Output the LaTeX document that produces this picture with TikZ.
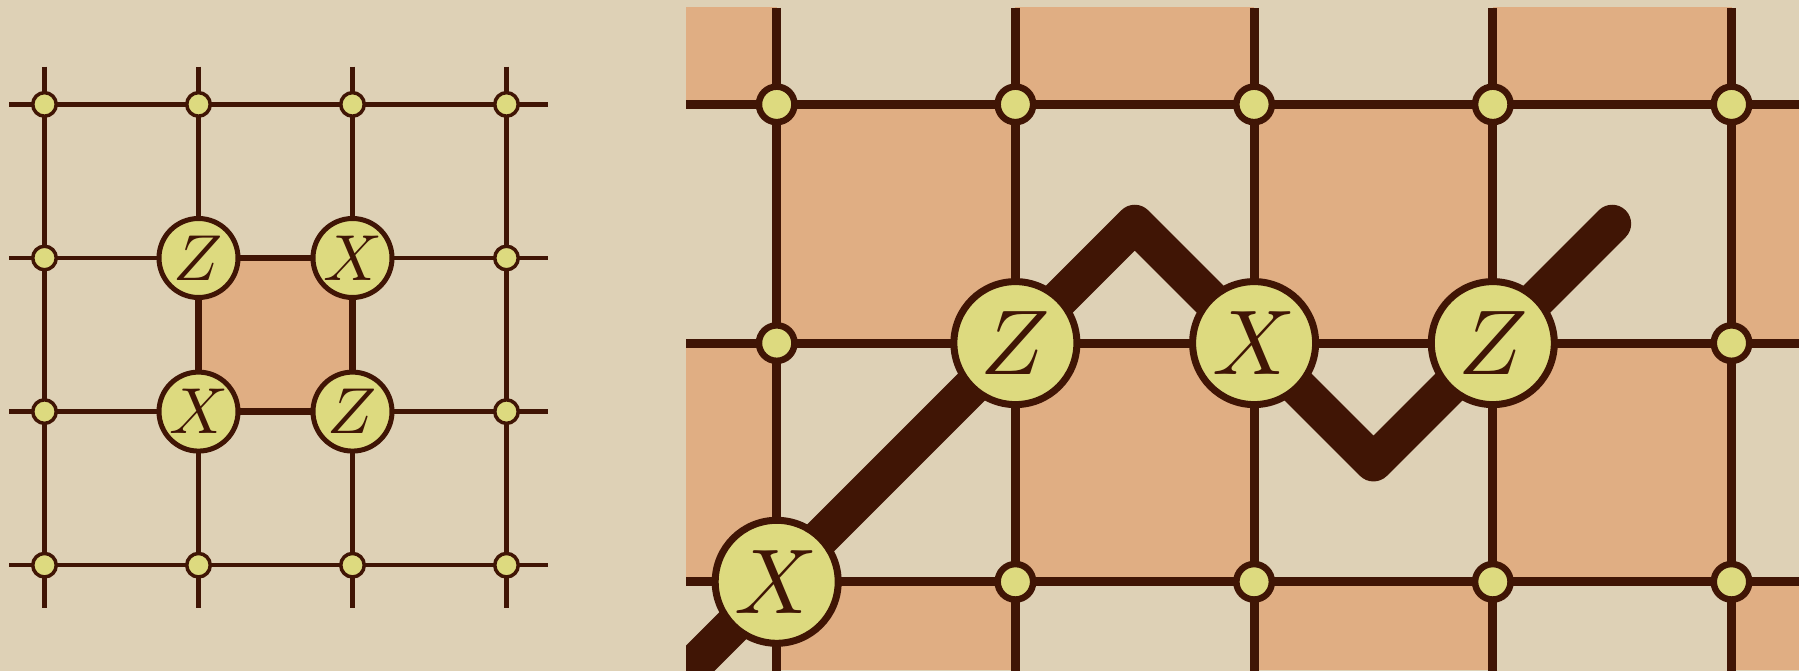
\documentclass[tikz,border=0pt]{standalone}
\definecolor{bg}{RGB}{222,209,182}
\definecolor{org}{RGB}{224,174,131}
\definecolor{ylw}{RGB}{221,218,127}
\definecolor{brn}{RGB}{64,21,5}
\begin{document}
\begin{tikzpicture}[x=1pt,y=-1pt,
  lline/.style={draw=brn,line width=4.5pt},
  plaq/.style={fill=org,draw=brn,line width=6.5pt},
  ldot/.style={circle,draw=brn,fill=ylw,line width=3.5pt,minimum size=23.5pt,inner sep=0pt},
  lbig/.style={circle,draw=brn,fill=ylw,line width=5pt,minimum size=79pt,inner sep=0pt,text=brn},
  rline/.style={draw=brn,line width=9pt},
  rdot/.style={circle,draw=brn,fill=ylw,line width=6.5pt,minimum size=35.5pt,inner sep=0pt},
  rbig/.style={circle,draw=brn,fill=ylw,line width=7pt,minimum size=123pt,inner sep=0pt,text=brn},
  stringline/.style={draw=brn,line width=38pt,line join=round,line cap=round},
  cell/.style={fill=org}
]
\useasboundingbox (0,0) rectangle (1799,671);
\fill[bg] (0,0) rectangle (1799,671);

% ---------- left panel ----------
\foreach \i/\x in {0/44.5,1/198.5,2/352.5,3/506.5}{
  \coordinate (LT\i) at (\x,66.7);
  \coordinate (LB\i) at (\x,608);
  \draw[lline] (LT\i) -- (LB\i);
}
\foreach \j/\y in {0/104.4,1/258,2/411.6,3/565.2}{
  \coordinate (LL\j) at (9,\y);
  \coordinate (LR\j) at (548,\y);
  \draw[lline] (LL\j) -- (LR\j);
}
\coordinate (P11) at (198.5,258);
\coordinate (P21) at (352.5,258);
\coordinate (P12) at (198.5,411.6);
\coordinate (P22) at (352.5,411.6);
\draw[plaq] (P11) -- (P21) -- (P22) -- (P12) -- cycle;

\foreach \i/\x in {0/44.5,1/198.5,2/352.5,3/506.5}{
  \node[ldot] (ld\i0) at (\x,104.4) {};
  \node[ldot] (ld\i3) at (\x,565.2) {};
}
\foreach \i/\x in {0/44.5,3/506.5}{
  \node[ldot] (ld\i1) at (\x,258) {};
  \node[ldot] (ld\i2) at (\x,411.6) {};
}
\node[lbig] (lZa) at (P11) {\scalebox{6.5}{$Z$}};
\node[lbig] (lXa) at (P21) {\scalebox{6.5}{$X$}};
\node[lbig] (lXb) at (P12) {\scalebox{6.5}{$X$}};
\node[lbig] (lZb) at (P22) {\scalebox{6.5}{$Z$}};

% ---------- right panel ----------
\begin{scope}
  \clip (686,8) rectangle (1799,669.5);
  \foreach \c in {0,...,5}{
    \foreach \r in {0,...,3}{
      \pgfmathtruncatemacro\sm{\c+\r}
      \ifodd\sm\else
        \fill[cell] ({538+238.7*\c},{-134.3+238.7*\r}) rectangle ++(238.7,238.7);
      \fi
    }
  }
\end{scope}
\begin{scope}
  \clip (686,8) rectangle (1799,671);
  \foreach \i/\x in {0/776.7,1/1015.4,2/1254.1,3/1492.8,4/1731.5}{
    \coordinate (RT\i) at (\x,8);
    \coordinate (RB\i) at (\x,671);
    \draw[rline] (RT\i) -- (RB\i);
  }
  \foreach \j/\y in {0/104.4,1/343.1,2/581.8}{
    \coordinate (RL\j) at (686,\y);
    \coordinate (RR\j) at (1799,\y);
    \draw[rline] (RL\j) -- (RR\j);
  }
  \coordinate (s0) at (626.7,731.8);
  \coordinate (c02) at (776.7,581.8);
  \coordinate (c11) at (1015.4,343.1);
  \coordinate (pk) at (1134.75,223.75);
  \coordinate (c21) at (1254.1,343.1);
  \coordinate (vl) at (1373.45,462.45);
  \coordinate (c31) at (1492.8,343.1);
  \coordinate (e0) at (1612.15,223.75);
  \draw[stringline] (s0) -- (c02) -- (c11) -- (pk) -- (c21) -- (vl) -- (c31) -- (e0);
\end{scope}

\foreach \i/\x in {0/776.7,1/1015.4,2/1254.1,3/1492.8,4/1731.5}{
  \node[rdot] (rd\i0) at (\x,104.4) {};
}
\node[rdot] (rd01) at (776.7,343.1) {};
\node[rdot] (rd41) at (1731.5,343.1) {};
\foreach \i/\x in {1/1015.4,2/1254.1,3/1492.8,4/1731.5}{
  \node[rdot] (rd\i2) at (\x,581.8) {};
}
\node[rbig] (rXa) at (c02) {\scalebox{9.2}{$X$}};
\node[rbig] (rZa) at (c11) {\scalebox{9.2}{$Z$}};
\node[rbig] (rXb) at (c21) {\scalebox{9.2}{$X$}};
\node[rbig] (rZb) at (c31) {\scalebox{9.2}{$Z$}};
\end{tikzpicture}
\end{document}
